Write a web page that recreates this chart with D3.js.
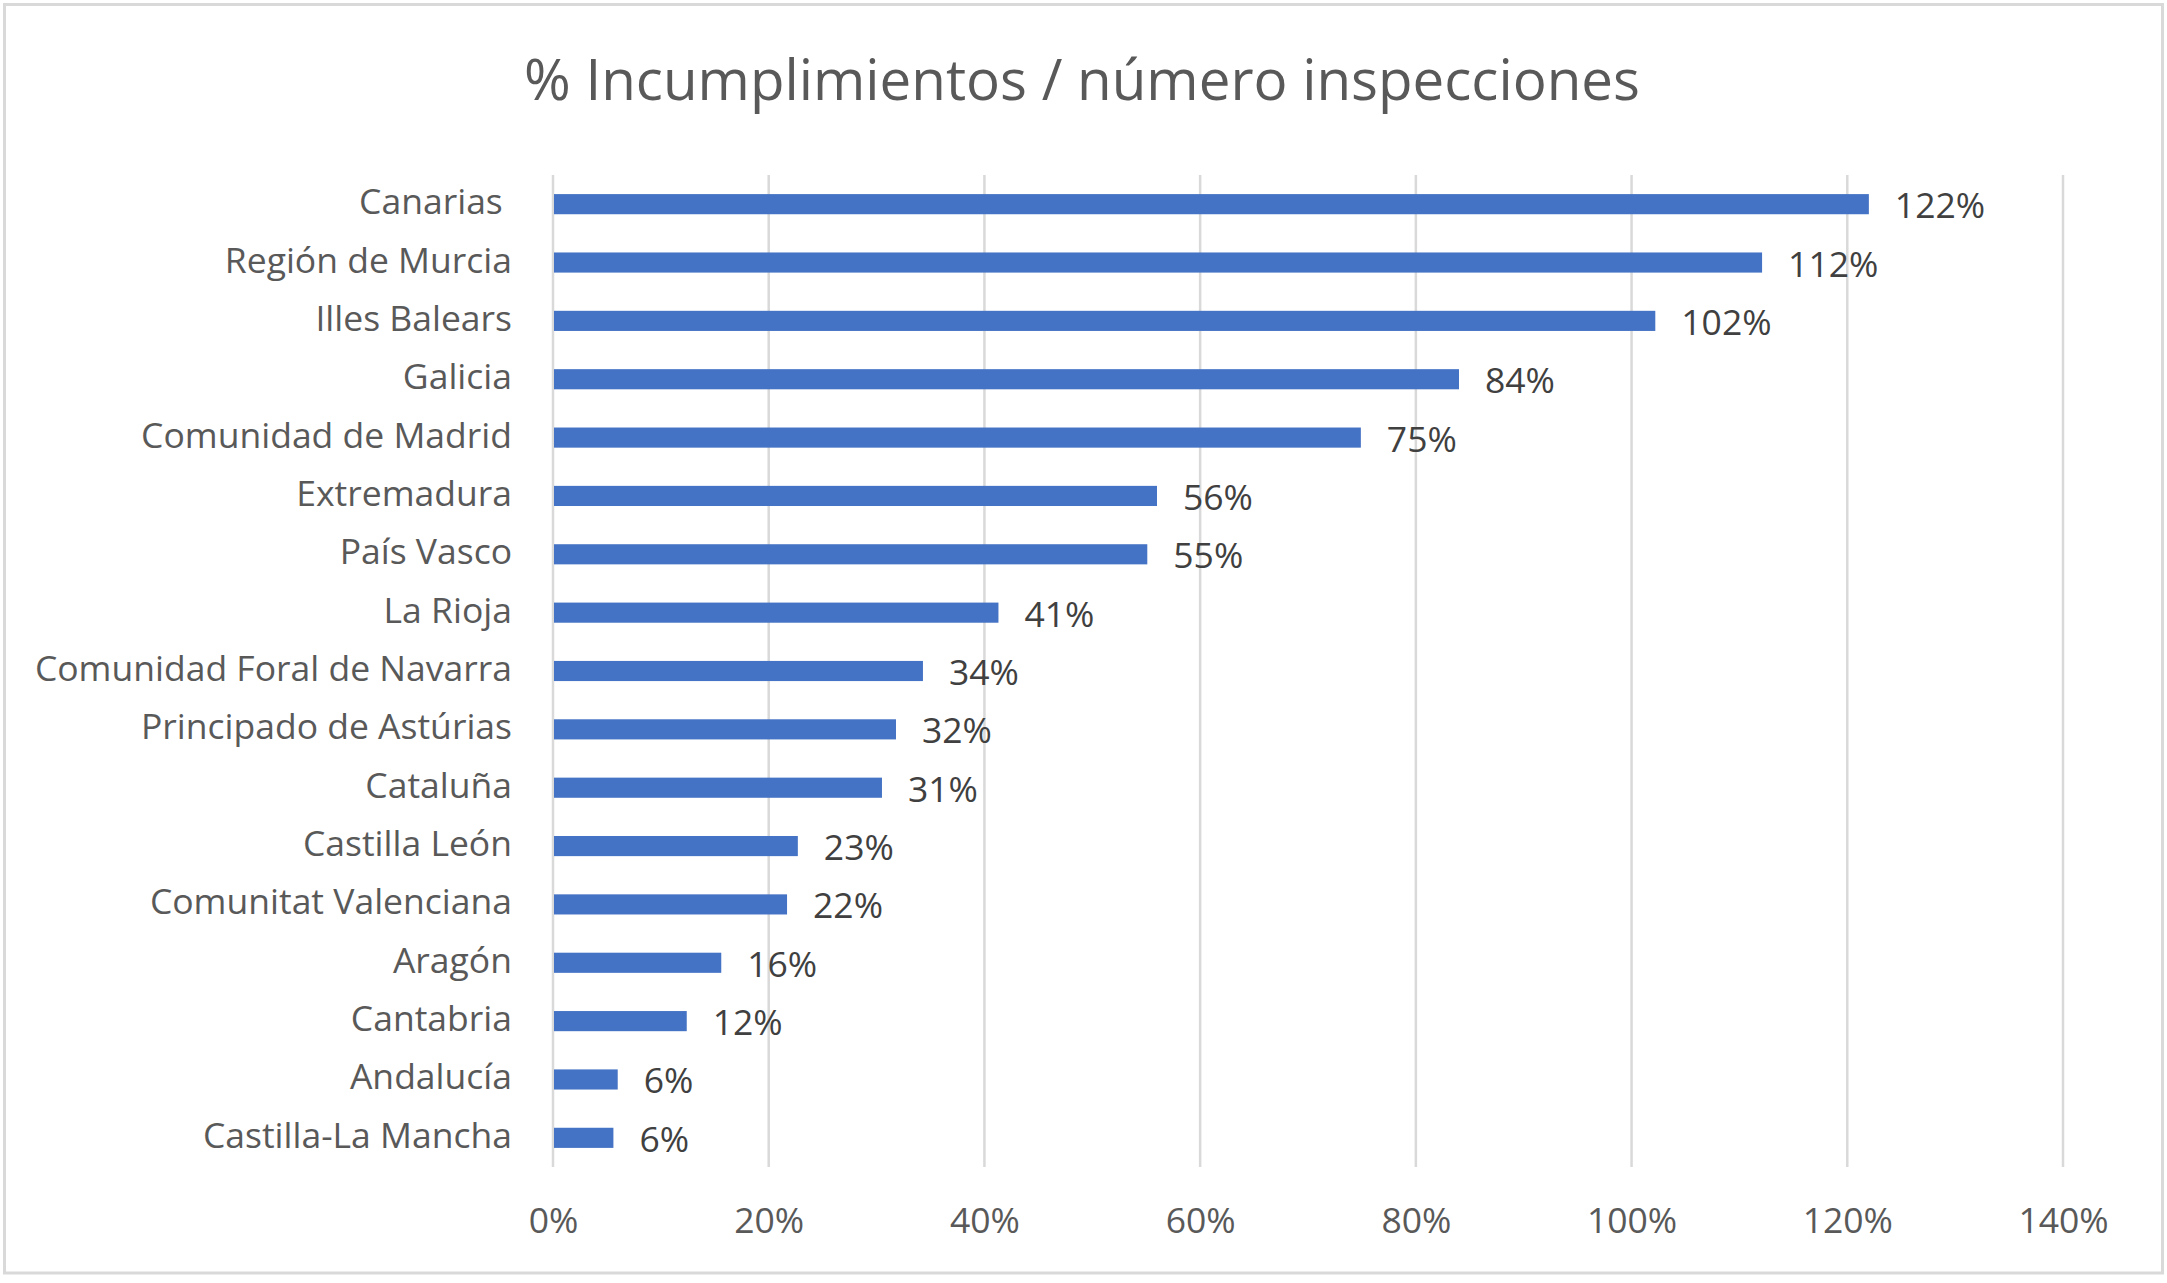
<!DOCTYPE html>
<html>
<head>
<meta charset="utf-8">
<script src="https://cdn.jsdelivr.net/npm/d3@7"></script>
<style>
  body { margin: 0; background: #fff; }
  text { font-family: "Open Sans", sans-serif; }
</style>
</head>
<body>
<svg id="chart" width="2167" height="1283"></svg>
<script>
var regions = ["Canarias ", "Región de Murcia", "Illes Balears", "Galicia", "Comunidad de Madrid",
               "Extremadura", "País Vasco", "La Rioja", "Comunidad Foral de Navarra",
               "Principado de Astúrias", "Cataluña", "Castilla León", "Comunitat Valenciana",
               "Aragón", "Cantabria", "Andalucía", "Castilla-La Mancha"];
var values = [1.22, 1.121, 1.022, 0.84, 0.749, 0.56, 0.551, 0.413, 0.343, 0.318, 0.305,
              0.227, 0.217, 0.156, 0.124, 0.06, 0.056];
var ticks = [0, 0.2, 0.4, 0.6, 0.8, 1.0, 1.2, 1.4];
var title = "% Incumplimientos / número inspecciones";

var svg = d3.select("#chart");

// chart border
svg.append("rect")
    .attr("x", 4.5).attr("y", 4.5)
    .attr("width", 2158).attr("height", 1268.5)
    .attr("fill", "#fff")
    .attr("stroke", "#d9d9d9")
    .attr("stroke-width", 3);

svg.append("text")
    .attr("x", 1082)
    .attr("y", 100)
    .attr("text-anchor", "middle")
    .attr("font-size", 56.5)
    .attr("fill", "#595959")
    .text(title);

var x = d3.scaleLinear().domain([0, 1.4]).range([553, 2063]);
var y = d3.scaleBand().domain(regions).range([175, 1167])
    .paddingInner(0.655).paddingOuter(0.3275);

// gridlines
svg.append("g")
    .selectAll("line")
    .data(ticks)
  .enter().append("line")
    .attr("x1", function(d) { return x(d); })
    .attr("x2", function(d) { return x(d); })
    .attr("y1", 175)
    .attr("y2", 1167)
    .attr("stroke", "#d9d9d9")
    .attr("stroke-width", 2.5);

// x axis labels
var xAxis = d3.axisBottom(x)
    .tickValues(ticks)
    .tickFormat(d3.format(".0%"))
    .tickSize(0)
    .tickPadding(0);

var gx = svg.append("g")
    .attr("transform", "translate(0,1233)")
    .call(xAxis);
gx.select(".domain").remove();
gx.selectAll("text")
    .attr("dy", null)
    .attr("y", 0)
    .attr("font-family", "Open Sans, sans-serif")
    .attr("font-size", 35.5)
    .attr("fill", "#595959");

// y axis labels
var yAxis = d3.axisLeft(y).tickSize(0).tickPadding(0);
var gy = svg.append("g")
    .attr("transform", "translate(512,0)")
    .call(yAxis);
gy.select(".domain").remove();
gy.selectAll("text")
    .attr("dy", null)
    .attr("x", 0)
    .attr("y", 10)
    .style("white-space", "pre")
    .attr("font-family", "Open Sans, sans-serif")
    .attr("font-size", 35.5)
    .attr("fill", "#595959");

// bars
svg.append("g")
    .selectAll("rect")
    .data(values)
  .enter().append("rect")
    .attr("x", x(0) + 1)
    .attr("y", function(d, i) { return y(regions[i]); })
    .attr("width", function(d) { return x(d) - x(0) - 1; })
    .attr("height", y.bandwidth())
    .attr("fill", "#4472c4");

// value labels
svg.append("g")
    .selectAll("text")
    .data(values)
  .enter().append("text")
    .attr("x", function(d) { return x(d) + 26; })
    .attr("y", function(d, i) { return y(regions[i]) + y.bandwidth() / 2 + 14; })
    .attr("font-size", 35.5)
    .attr("fill", "#404040")
    .text(function(d) { return Math.round(d * 100) + "%"; });
</script>
</body>
</html>
